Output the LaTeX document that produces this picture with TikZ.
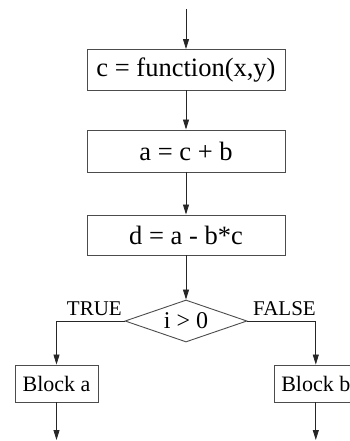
\documentclass[tikz,border=0pt]{standalone}
\usepackage{fontspec}
\setmainfont{Liberation Serif}
\usetikzlibrary{shapes.geometric,arrows.meta}
\begin{document}
\begin{tikzpicture}[x=1pt,y=-1pt,
  box/.style={draw=black!70,line width=0.9pt,inner sep=0pt,font=\fontsize{26.5}{28}\selectfont},
  smallbox/.style={draw=black!70,line width=0.9pt,inner sep=0pt,minimum width=83pt,minimum height=37pt,font=\fontsize{22}{24}\selectfont},
  decision/.style={draw=black!70,line width=0.9pt,shape=diamond,inner sep=0pt,aspect=2.9,minimum width=122pt,minimum height=42pt,font=\fontsize{24}{26}\selectfont},
  lab/.style={inner sep=0pt,font=\fontsize{21}{23}\selectfont},
  arr/.style={draw=black!85,line width=0.8pt,-{Triangle[length=10pt,width=6pt]}}
]
\path[use as bounding box, clip] (0,0) rectangle (350,441);
\coordinate (top) at (186,9);
\node[box,minimum width=198pt,minimum height=40.5pt] (b1) at (186,69.75) {c = function(x,y)};
\node[box,minimum width=198pt,minimum height=42pt] (b2) at (186,151) {a = c + b};
\node[box,minimum width=198pt,minimum height=40pt] (b3) at (186,235) {d = a - b*c};
\node[decision] (d) at (186,321) {i > 0};
\node[smallbox] (ba) at (56.5,383.5) {Block a};
\node[smallbox] (bb) at (315.8,383.5) {Block b};
\coordinate (enda) at (56.5,440);
\coordinate (endb) at (315.8,440);
\node[lab,anchor=base east] (tl) at (122,315) {TRUE};
\node[lab,anchor=base west] (fl) at (253,315) {FALSE};
\draw[arr] (top) -- (b1);
\draw[arr] (b1) -- (b2);
\draw[arr] (b2) -- (b3);
\draw[arr] (b3) -- (d);
\draw[arr] (d.west) -| (ba.north);
\draw[arr] (d.east) -| (bb.north);
\draw[arr] (ba) -- (enda);
\draw[arr] (bb) -- (endb);
\end{tikzpicture}
\end{document}
